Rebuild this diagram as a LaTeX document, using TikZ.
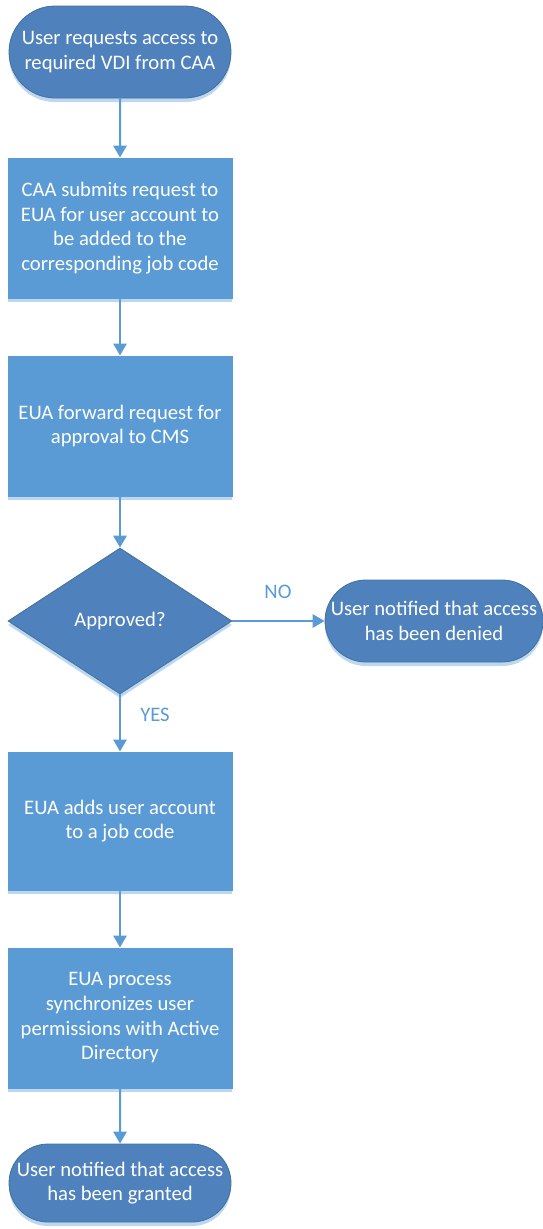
\documentclass[tikz,border=0pt]{standalone}
\usepackage{fontspec}
\setmainfont{Carlito}
\usetikzlibrary{shapes.misc,shapes.geometric,shadows,arrows.meta}

\definecolor{boxblue}{HTML}{5B9BD5}
\definecolor{termblue}{HTML}{4F81BD}
\definecolor{edgeblue}{HTML}{41719C}
\definecolor{shadeblue}{HTML}{BDD7EE}

\tikzset{
  every picture/.style={line width=0.75pt},
  lightshadow/.style={drop shadow={shadow xshift=0pt,shadow yshift=-3pt,fill=shadeblue,opacity=1}},
  term/.style={rounded rectangle,fill=termblue,draw=edgeblue,line width=0.6pt,lightshadow,
    text=white,align=center,font=\fontsize{15.5}{18.5}\selectfont,minimum width=168pt,inner sep=0.75pt},
  stepbox/.style={rectangle,fill=boxblue,draw=boxblue,lightshadow,
    text=white,align=center,font=\fontsize{15.5}{18.5}\selectfont,minimum width=168pt,minimum height=105pt,inner sep=0.75pt},
  decision/.style={diamond,fill=termblue,draw=edgeblue,line width=0.6pt,lightshadow,
    text=white,font=\fontsize{15.5}{18.5}\selectfont,minimum width=168pt,minimum height=109.5pt,inner sep=0pt},
  flow/.style={draw=boxblue,line width=1.5pt,-{Triangle[length=9pt,width=10pt]}},
  answer/.style={text=boxblue,font=\fontsize{15.5}{18.5}\selectfont,inner sep=0.75pt}
}

\begin{document}
\begin{tikzpicture}[x=0.75pt,y=0.75pt,yscale=-1,xscale=1]
\useasboundingbox (0,0) rectangle (543,1229);

% Start / end
\draw (120,52) node [term,minimum height=69pt] (start) {User requests access to\\required VDI from CAA};
\draw (434,621) node [term,minimum width=165pt,minimum height=61.5pt] (denied) {User notified that access\\has been denied};
\draw (120,1183) node [term,minimum height=58.5pt] (granted) {User notified that access\\has been granted};

% Process steps
\draw (120,228) node [stepbox] (submit) {CAA submits request to\\EUA for user account to\\be added to the\\corresponding job code};
\draw (120,426) node [stepbox] (forward) {EUA forward request for\\approval to CMS};
\draw (120,821) node [stepbox,minimum height=103.5pt] (addcode) {EUA adds user account\\to a job code};
\draw (120,1018) node [stepbox] (syncad) {EUA process\\synchronizes user\\permissions with Active\\Directory};

% Decision
\draw (120,621) node [decision] (approved) {Approved?};

% Text Node
\draw (278,592) node [answer] (nolabel) {NO};
% Text Node
\draw (155,715) node [answer] (yeslabel) {YES};

% Connectors
\draw [flow] (start) -- (submit);
\draw [flow] (submit) -- (forward);
\draw [flow] (forward) -- (approved);
\draw [flow] (approved) -- (denied);
\draw [flow] (approved) -- (addcode);
\draw [flow] (addcode) -- (syncad);
\draw [flow] (syncad) -- (granted);

\end{tikzpicture}
\end{document}
